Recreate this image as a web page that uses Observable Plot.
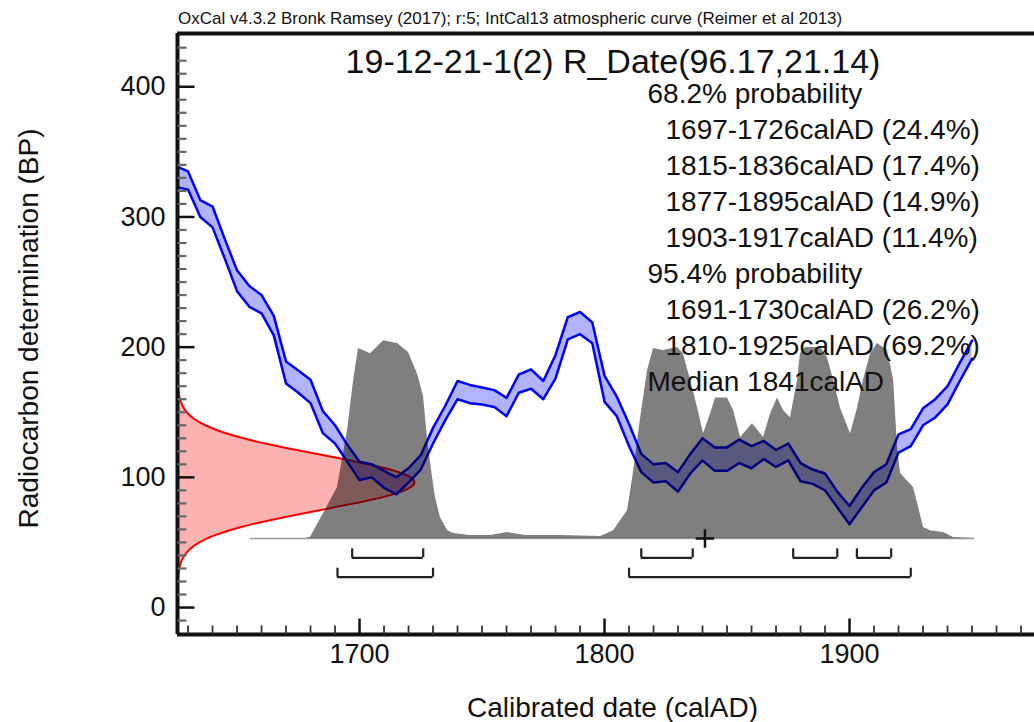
<!DOCTYPE html>
<html><head><meta charset="utf-8">
<script src="https://cdn.jsdelivr.net/npm/d3@7"></script>
<script src="https://cdn.jsdelivr.net/npm/@observablehq/plot@0.6"></script>
<style>
html,body{margin:0;padding:0;background:#fff;}
#wrap{width:1034px;height:722px;overflow:hidden;position:relative;background:#fff;}
#hdr{position:relative;height:28px;font-family:"Liberation Sans",Arial,sans-serif;color:#111;}
#hdr span{position:absolute;left:178px;top:10px;font-size:17px;line-height:17px;white-space:nowrap;}
#chart svg{display:block;}
</style></head><body>
<div id="wrap"><div id="hdr"><span id="credit"></span></div><div id="chart"></div></div>
<script>
// ---- texts ----
const creditText = "OxCal v4.3.2 Bronk Ramsey (2017); r:5; IntCal13 atmospheric curve (Reimer et al 2013)";
const titleText = "19-12-21-1(2) R_Date(96.17,21.14)";
const summaryLines = [
  "68.2% probability",
  "1697-1726calAD (24.4%)",
  "1815-1836calAD (17.4%)",
  "1877-1895calAD (14.9%)",
  "1903-1917calAD (11.4%)",
  "95.4% probability",
  "1691-1730calAD (26.2%)",
  "1810-1925calAD (69.2%)",
  "Median 1841calAD"
];
const summaryIndent = [false, true, true, true, true, false, true, true, false];
const xLabel = "Calibrated date (calAD)";
const yLabel = "Radiocarbon determination (BP)";

// ---- ticks ----
const xMajorTicks = [1700, 1800, 1900];
const xMinorTicks = [1630,1640,1650,1660,1670,1680,1690,1710,1720,1730,1740,1750,1760,1770,1780,1790,1810,1820,1830,1840,1850,1860,1870,1880,1890,1910,1920,1930,1940,1950,1960,1970];
const yMajorTicks = [0, 100, 200, 300, 400];
const yMinorTicks = [-10,10,20,30,40,50,60,70,80,90,110,120,130,140,150,160,170,180,190,210,220,230,240,250,260,270,280,290,310,320,330,340,350,360,370,380,390,410,420,430];

// ---- calibration curve (IntCal13, 1 sigma band) ----
const calYears = [1625,1630,1635,1640,1645,1650,1655,1660,1665,1670,1675,1680,1685,1690,1695,1700,1705,1710,1715,1720,1725,1730,1735,1740,1745,1750,1755,1760,1765,1770,1775,1780,1785,1790,1795,1800,1805,1810,1815,1820,1825,1830,1835,1840,1845,1850,1855,1860,1865,1870,1875,1880,1885,1890,1895,1900,1905,1910,1915,1920,1925,1930,1935,1940,1945,1950];
const calUpper = [339,335,313,308,283,259,247,240,224,189,182,175,151,140,125,112,110,105,100,107,117,138,155,174,171,169,167,161,179,183,174,194,223,227,219,178,162,141,118,110,111,104,118,130,123,123,129,124,128,121,126,111,106,103,89,78,92,104,110,133,137,153,160,170,188,205];
const calLower = [323,321,300,292,268,243,231,226,209,172,165,157,134,126,112,98,100,92,87,96,106,126,144,160,157,156,154,147,165,168,160,176,206,210,203,158,147,124,104,96,97,89,103,113,105,105,111,107,114,108,113,97,95,90,77,64,77,90,96,119,124,140,146,156,174,191];

// ---- radiocarbon measurement likelihood (relative) ----
const redBP   = [172,170,165,160,155,150,145,140,135,130,125,120,115,110,105,100,96,90,85,80,75,70,65,60,55,50,45,40,35,30,25,22];
const redProb = [0,0.002,0.005,0.0105,0.021,0.039,0.069,0.117,0.185,0.278,0.395,0.53,0.672,0.807,0.917,0.984,1,0.958,0.87,0.746,0.606,0.465,0.337,0.231,0.15,0.092,0.053,0.029,0.015,0.0075,0.0035,0];

// ---- calibrated posterior (relative) ----
const grayYears = [1655.5,1678,1680,1685.3,1691,1695.1,1697.6,1699.6,1704.5,1709.8,1715.5,1720,1723.7,1726.1,1727.8,1729.8,1731,1733,1736,1738.4,1745,1753.5,1760.4,1767.8,1782,1798.4,1803.7,1806.5,1809.4,1811.8,1814.7,1817.6,1820,1824,1829.8,1832.2,1835.1,1838,1840.4,1843.3,1845.3,1850.2,1852.7,1855.5,1860.4,1864.9,1867.8,1870.6,1873.1,1875.9,1878.8,1880,1882,1888.2,1891,1893.5,1896.3,1900.4,1903.3,1905.7,1908.6,1911.4,1915.5,1918,1919.6,1920.8,1923.7,1926.1,1928.2,1930.2,1933.1,1938.4,1942.4,1951];
const grayProb  = [0,0,0.007,0.126,0.258,0.545,0.80,0.96,0.934,1.0,0.985,0.94,0.83,0.72,0.495,0.308,0.207,0.106,0.04,0.025,0.015,0.015,0.03,0.015,0.015,0.01,0.04,0.09,0.14,0.333,0.606,0.85,0.96,0.95,0.965,0.934,0.80,0.66,0.53,0.63,0.71,0.71,0.646,0.51,0.58,0.51,0.63,0.71,0.646,0.61,0.80,0.934,0.965,0.965,0.914,0.80,0.66,0.53,0.66,0.80,0.934,0.985,0.95,0.80,0.46,0.33,0.29,0.258,0.157,0.056,0.04,0.03,0.005,0];

// ---- ranges and median ----
const ranges68 = [[1697,1726],[1815,1836],[1877,1895],[1903,1917]];
const ranges95 = [[1691,1730],[1810,1925]];
const medianYear = [1841];

// ---- layout ----
const W = 1034, H = 694;
const mL = 177, mR = 0, mT = 5, mB = 88;
const frameW = W - mL - mR, frameH = H - mT - mB;
const xDomain = [1625.7, 1975.5];
const yDomain = [-20.7, 440.9];
const pxPerYear = frameW / (xDomain[1] - xDomain[0]);
const pxPerBP = frameH / (yDomain[1] - yDomain[0]);
const redPeakYears = 96.7;
const grayBase = 53, grayHeight = 152;
const lvl68 = 38.2, lvl68Top = 45.1, lvl95 = 23.3, lvl95Top = 30.2;
const ink = "#111";

document.getElementById("credit").textContent = creditText;

const calib = calYears.map((yr, i) => ({yr, hi: calUpper[i], lo: calLower[i]}));
const red = redBP.map((bp, i) => ({bp, p: redProb[i]}));
const gray = grayYears.map((yr, i) => ({yr, p: grayProb[i]}));

const textMarks = summaryLines.map((t, i) => Plot.text([t], {
  text: d => d, frameAnchor: "top-left", textAnchor: "start", lineAnchor: "middle",
  dx: summaryIndent[i] ? 488 : 470, dy: 61 + 36 * i, fontSize: 28, fill: ink
}));

// inward tick segments (lengths in px converted to data units)
const xMinorSeg = xMinorTicks.map(v => ({v, a: yDomain[0], b: yDomain[0] + 9 / pxPerBP}));
const xMajorSeg = xMajorTicks.map(v => ({v, a: yDomain[0], b: yDomain[0] + 16 / pxPerBP}));
const yMinorSeg = yMinorTicks.map(v => ({v, a: xDomain[0], b: xDomain[0] + 9 / pxPerYear}));
const yMajorSeg = yMajorTicks.map(v => ({v, a: xDomain[0], b: xDomain[0] + 17 / pxPerYear}));

const chart = Plot.plot({
  width: W, height: H,
  marginLeft: mL, marginRight: mR, marginTop: mT, marginBottom: mB,
  x: {domain: xDomain},
  y: {domain: yDomain},
  style: {fontFamily: "'Liberation Sans', Arial, sans-serif", fontSize: "27px", color: ink, background: "white"},
  marks: [
    // measurement likelihood
    Plot.areaX(red, {y: "bp", x1: xDomain[0], x2: d => xDomain[0] + d.p * redPeakYears, fill: "red", fillOpacity: 0.3, curve: "monotone-y"}),
    Plot.lineX(red, {y: "bp", x: d => xDomain[0] + d.p * redPeakYears, stroke: "red", strokeWidth: 2, curve: "monotone-y"}),
    // calibration curve
    Plot.areaY(calib, {x: "yr", y1: "lo", y2: "hi", fill: "blue", fillOpacity: 0.3, clip: true}),
    Plot.lineY(calib, {x: "yr", y: "hi", stroke: "blue", strokeWidth: 2.5, clip: true}),
    Plot.lineY(calib, {x: "yr", y: "lo", stroke: "blue", strokeWidth: 2.5, clip: true}),
    // posterior
    Plot.ruleY([grayBase], {x1: grayYears[0], x2: grayYears[grayYears.length - 1], stroke: "#999", strokeWidth: 1.5}),
    Plot.areaY(gray, {x: "yr", y1: grayBase, y2: d => grayBase + d.p * grayHeight, fill: "black", fillOpacity: 0.5}),
    // range brackets
    Plot.ruleY(ranges68, {x1: d => d[0], x2: d => d[1], y: lvl68, stroke: "#222", strokeWidth: 2.2}),
    Plot.ruleX(ranges68.flat(), {x: d => d, y1: lvl68, y2: lvl68Top, stroke: "#222", strokeWidth: 2.2}),
    Plot.ruleY(ranges95, {x1: d => d[0], x2: d => d[1], y: lvl95, stroke: "#222", strokeWidth: 2.2}),
    Plot.ruleX(ranges95.flat(), {x: d => d, y1: lvl95, y2: lvl95Top, stroke: "#222", strokeWidth: 2.2}),
    Plot.dot(medianYear, {x: d => d, y: grayBase, symbol: "plus", r: 6, stroke: ink, strokeWidth: 2.5}),
    // frame
    Plot.ruleX([xDomain[0]], {stroke: ink, strokeWidth: 4}),
    Plot.ruleY([yDomain[0], yDomain[1]], {stroke: ink, strokeWidth: 4}),
    // inward ticks
    Plot.link(xMinorSeg, {x1: "v", x2: "v", y1: "a", y2: "b", stroke: "#333", strokeWidth: 1.8}),
    Plot.link(xMajorSeg, {x1: "v", x2: "v", y1: "a", y2: "b", stroke: ink, strokeWidth: 2.5}),
    Plot.link(yMinorSeg, {y1: "v", y2: "v", x1: "a", x2: "b", stroke: "#666", strokeWidth: 2.2}),
    Plot.link(yMajorSeg, {y1: "v", y2: "v", x1: "a", x2: "b", stroke: ink, strokeWidth: 2.5}),
    Plot.axisX(xMajorTicks, {tickSize: 0, tickPadding: 9, label: null, fontSize: 27, tickFormat: d => String(d)}),
    Plot.axisY(yMajorTicks, {tickSize: 0, tickPadding: 12, label: null, fontSize: 27, tickFormat: d => String(d)}),
    // texts
    Plot.text([titleText], {text: d => d, frameAnchor: "top", lineAnchor: "middle", textAnchor: "middle", dx: 7, dy: 28.5, fontSize: 34, fill: ink}),
    ...textMarks,
    Plot.text([xLabel], {text: d => d, frameAnchor: "bottom", lineAnchor: "middle", textAnchor: "middle", dx: 6.5, dy: 74, fontSize: 28, fill: ink}),
    Plot.text([yLabel], {text: d => d, frameAnchor: "left", lineAnchor: "middle", textAnchor: "middle", rotate: -90, dx: -148, dy: -5.5, fontSize: 28, fill: ink})
  ]
});
document.getElementById("chart").appendChild(chart);
</script>
</body></html>
